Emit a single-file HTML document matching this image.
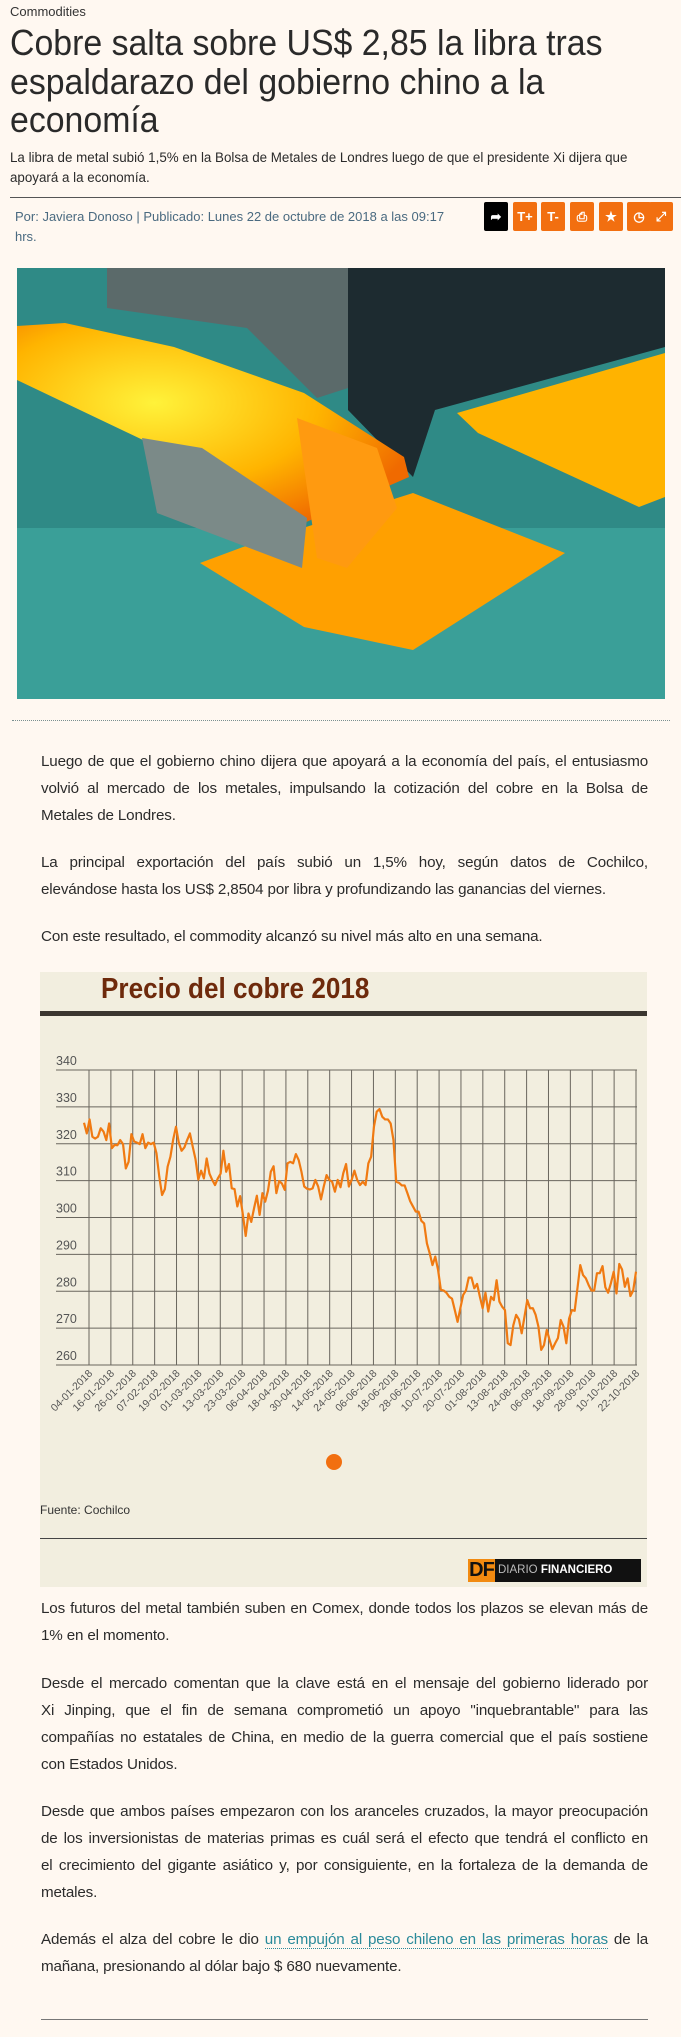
<!DOCTYPE html>
<html><head><meta charset="utf-8"><style>
body{margin:0;width:681px;height:2037px;background:#fff8f1;font-family:"Liberation Sans",sans-serif;color:#2b2b2b;position:relative;overflow:hidden}
.a{position:absolute}
.p{position:absolute;left:41px;width:607px;font-size:15.2px;line-height:27px;letter-spacing:-0.15px}
.p div{text-align:justify;text-align-last:justify;white-space:nowrap;height:27px}
.p div.l{text-align-last:left}
.btn{position:absolute;top:202px;width:24px;height:29px;background:#f26f10;color:#fff;font-size:13px;font-weight:bold;text-align:center;line-height:29px;border-radius:2px}
.tl{transform-origin:0 0;transform:scaleX(0.84);white-space:nowrap}
</style></head><body>
<div class="a" style="left:10px;top:4px;font-size:13px;color:#333">Commodities</div>
<div class="a tl" style="left:10px;top:24px;font-size:36px;line-height:38.5px;color:#2a2a2a;transform:scaleX(0.94)">Cobre salta sobre US$ 2,85 la libra tras<br>espaldarazo del gobierno chino a la<br>economía</div>
<div class="a tl" style="left:10px;top:148px;font-size:13.5px;line-height:20px;transform:scaleX(0.99)">La libra de metal subió 1,5% en la Bolsa de Metales de Londres luego de que el presidente Xi dijera que<br>apoyará a la economía.</div>
<div class="a" style="left:10px;top:197px;width:671px;height:1px;background:#555"></div>
<div class="a tl" style="left:15px;top:207px;font-size:13px;line-height:20px;color:#4a6a80;transform:scaleX(1.0)">Por: Javiera Donoso | Publicado: Lunes 22 de octubre de 2018 a las 09:17<br>hrs.</div>
<div class="btn" style="left:484px;background:#000">➦</div>
<div class="btn" style="left:513px">T+</div>
<div class="btn" style="left:541px">T-</div>
<div class="btn" style="left:570px">⎙</div>
<div class="btn" style="left:599px">★</div>
<div class="btn" style="left:627px">◷</div>
<div class="btn" style="left:649px">⤢</div>

<svg class="a" style="left:17px;top:268px" width="648" height="431" viewBox="0 0 648 431">
<defs><radialGradient id="g1" cx="0.35" cy="0.4" r="0.7"><stop offset="0" stop-color="#fff23a"/><stop offset="0.6" stop-color="#ffb400"/><stop offset="1" stop-color="#f06a00"/></radialGradient></defs>
<rect width="648" height="431" fill="#2f8a86"/>
<rect x="0" y="260" width="648" height="171" fill="#3a9f98"/>
<polygon points="331,0 648,0 648,79 418,142 396,209 331,142" fill="#1d2b30"/>
<polygon points="90,0 331,0 331,120 300,130 230,60 90,40" fill="#5b6a6a"/>
<polygon points="0,58 0,112 126,172 287,255 392,209 387,189 287,125 157,79 48,55" fill="url(#g1)"/>
<polygon points="183,295 226,279 396,225 548,285 396,382 287,359" fill="#ffa000"/>
<polygon points="440,145 648,85 648,229 622,239 461,165" fill="#ffb300"/>
<polygon points="280,150 360,180 380,240 330,300 300,290" fill="#ff9a10"/>
<polygon points="125,170 185,180 290,250 285,300 140,245" fill="#7b8a88"/>
</svg>
<div class="a" style="left:12px;top:720px;width:658px;border-top:1px dotted #7a9090"></div>

<div class="p" style="top:748px"><div>Luego de que el gobierno chino dijera que apoyará a la economía del país, el entusiasmo</div><div>volvió al mercado de los metales, impulsando la cotización del cobre en la Bolsa de</div><div class="l">Metales de Londres.</div></div>
<div class="p" style="top:849px"><div>La principal exportación del país subió un 1,5% hoy, según datos de Cochilco,</div><div class="l">elevándose hasta los US$ 2,8504 por libra y profundizando las ganancias del viernes.</div></div>
<div class="p" style="top:923px"><div class="l">Con este resultado, el commodity alcanzó su nivel más alto en una semana.</div></div>

<div class="a" style="left:40px;top:972px;width:607px;height:615px;background:#f2eedf"></div>
<div class="a" style="left:101px;top:972px;font-size:29px;font-weight:bold;color:#6e2a0c;line-height:34px;transform:scaleX(0.9);transform-origin:0 0;white-space:nowrap">Precio del cobre 2018</div>
<div class="a" style="left:40px;top:1011px;width:607px;height:5px;background:#3b3630"></div>
<svg class="a" id="chart" style="left:0;top:1040px" width="681" height="440"></svg>
<div class="a" style="left:40px;top:1503px;font-size:12px;color:#333">Fuente: Cochilco</div>
<div class="a" style="left:40px;top:1538px;width:607px;height:1px;background:#444"></div>
<div class="a" style="left:468px;top:1559px;width:173px;height:23px;background:#111;white-space:nowrap"><span style="display:inline-block;width:27px;height:23px;background:#f28a10;color:#111;font-weight:bold;font-size:20px;line-height:23px;text-align:center;letter-spacing:-1px">DF</span><span style="color:#bbb;font-size:11.5px;line-height:23px;vertical-align:top;margin-left:3px">DIARIO <b style="color:#fff">FINANCIERO</b></span></div>

<div class="p" style="top:1595px"><div>Los futuros del metal también suben en Comex, donde todos los plazos se elevan más de</div><div class="l">1% en el momento.</div></div>
<div class="p" style="top:1670px"><div>Desde el mercado comentan que la clave está en el mensaje del gobierno liderado por</div><div>Xi Jinping, que el fin de semana comprometió un apoyo "inquebrantable" para las</div><div>compañías no estatales de China, en medio de la guerra comercial que el país sostiene</div><div class="l">con Estados Unidos.</div></div>
<div class="p" style="top:1798px"><div>Desde que ambos países empezaron con los aranceles cruzados, la mayor preocupación</div><div>de los inversionistas de materias primas es cuál será el efecto que tendrá el conflicto en</div><div>el crecimiento del gigante asiático y, por consiguiente, en la fortaleza de la demanda de</div><div class="l">metales.</div></div>
<div class="p" style="top:1926px"><div>Además el alza del cobre le dio <a style="color:#2a8a9a;text-decoration:none;border-bottom:1px dotted #2a8a9a">un empujón al peso chileno en las primeras horas</a> de la</div><div class="l">mañana, presionando al dólar bajo $ 680 nuevamente.</div></div>
<div class="a" style="left:41px;top:2019px;width:607px;height:1px;background:#777"></div>

<script>
const yTicks=[260,270,280,290,300,310,320,330,340];
const xLabels=["04-01-2018","16-01-2018","26-01-2018","07-02-2018","19-02-2018","01-03-2018","13-03-2018","23-03-2018","06-04-2018","18-04-2018","30-04-2018","14-05-2018","24-05-2018","06-06-2018","18-06-2018","28-06-2018","10-07-2018","20-07-2018","01-08-2018","13-08-2018","24-08-2018","06-09-2018","18-09-2018","28-09-2018","10-10-2018","22-10-2018"];
const prices=[325.7,322.8,326.6,321.9,321.4,321.9,324.2,323.3,321,325.5,318.8,319.7,319.6,321,319.9,313.3,315.1,322.6,320.6,320.3,319.9,322.6,318.8,320.3,319.9,320.3,317.4,311.1,306.1,307.7,313.8,316.5,321.2,324.6,320.3,318.1,319,321,322.8,319.2,315.8,310.3,312.7,310.6,316,311.9,310.2,308.8,310.6,311.9,318.1,312.4,314.5,307.9,307.7,303,305.8,300.7,295,301.1,298.8,302.5,305.9,300.7,306.6,304.3,307.3,312.4,313.9,306.6,309.9,309.2,307.5,314.7,315.1,314.7,317.2,315.6,312.4,308.4,307.8,307.6,307.9,310.2,308.4,304.9,308.4,311.5,310.2,309.7,307,310.2,308.2,312,314.5,308.4,310.2,312.7,310.2,308.8,309.7,308.8,314.7,316.5,324.6,328.7,329.4,327.3,326.6,326.6,325.5,321,309.7,309.4,308.7,308.7,306.6,304.4,303,301.6,301.6,299.1,298.4,293,290.3,287.1,289.4,285.8,280.4,280.2,279.6,278.5,278,274.9,271.7,275.4,279,280.2,283.7,283.7,280.8,282,278.5,275.4,279.6,274.5,278.5,277.6,283,277.2,275.8,274.9,265.9,265.4,270.8,273.6,272.4,268.6,273.1,277.6,275.4,275.4,273.6,270.4,264.1,265.4,269.5,266.8,264.3,265.9,267.3,272.2,270.4,265.9,272.6,274.9,274.7,280.8,287.1,284.4,283.5,281.7,280.2,280.2,284.9,284.9,286.8,281.1,279.6,282.2,285.3,279.4,287.4,285.9,281.2,283.5,278.7,280.2,285.3];
const svg=document.getElementById('chart'),NS='http://www.w3.org/2000/svg',OY=1040;
const y=v=>1365-OY-(v-260)*(1365-1070)/80;
const gx=i=>89+i*21.88;
const px=i=>84+i*(636-84)/(prices.length-1);
function mk(t,a){const e=document.createElementNS(NS,t);for(const k in a)e.setAttribute(k,a[k]);svg.appendChild(e);return e;}
yTicks.forEach(v=>{
 const l=mk('line',{x1:56,x2:637,y1:y(v),y2:y(v),stroke:'#6a665e','stroke-width':1});
 
 
 const t=mk('text',{x:56,y:y(v)-5,'font-size':12.5,fill:'#555','font-family':'Liberation Sans, sans-serif'});
 t.textContent=v;
 
 
});
xLabels.forEach((s,i)=>{
 const l=mk('line',{x1:gx(i),x2:gx(i),y1:y(340),y2:y(260),stroke:'#6a665e','stroke-width':1});
 
 
 const t=mk('text',{x:0,y:0,'font-size':10.5,fill:'#555','text-anchor':'end','font-family':'Liberation Sans, sans-serif',transform:`translate(${gx(i)+4},${y(260)+9}) rotate(-45)`});
 t.textContent=s;
 
 
});
const line=mk('polyline',{points:prices.map((v,i)=>px(i)+','+y(v)).join(' '),fill:'none',stroke:'#f07a12','stroke-width':2.2,'stroke-linejoin':'round'});


const dot=mk('circle',{cx:334,cy:1462-OY,r:8,fill:'#f26f10'});


</script>
</body></html>
